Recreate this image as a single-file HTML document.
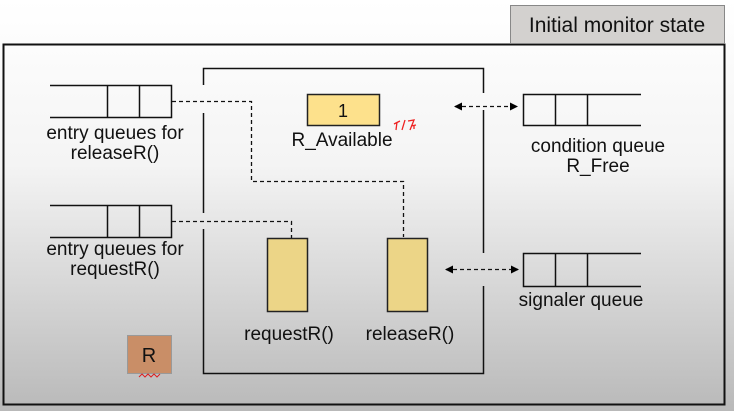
<!DOCTYPE html>
<html><head><meta charset="utf-8"><style>
html,body{margin:0;padding:0;width:734px;height:411px;overflow:hidden;}
svg{display:block;font-family:"Liberation Sans",sans-serif;}
</style></head><body>
<svg width="734" height="411" viewBox="0 0 734 411" xmlns="http://www.w3.org/2000/svg">
<defs>
<linearGradient id="bg" x1="0" y1="0" x2="0" y2="1">
<stop offset="0" stop-color="#ffffff"/><stop offset="0.4" stop-color="#f4f4f4"/><stop offset="1" stop-color="#b9b9b9"/>
</linearGradient>
<marker id="ah" markerWidth="8" markerHeight="8" refX="7" refY="4" orient="auto-start-reverse" markerUnits="userSpaceOnUse">
<path d="M0,0 L8,4 L0,8 z" fill="#000"/></marker>
</defs>
<rect width="734" height="411" fill="url(#bg)"/>
<rect x="3.5" y="44.5" width="721" height="360" fill="none" stroke="#111" stroke-width="2"/>
<rect x="510.5" y="5.5" width="214" height="38" fill="#d3d1cf" stroke="#888"/>
<text x="617" y="32" font-size="21" text-anchor="middle" fill="#111">Initial monitor state</text>

<g stroke="#111" stroke-width="1.5" fill="none">
<path d="M203.5,85 V68.5 H483.5 V93"/>
<path d="M203.5,113 V213"/>
<path d="M203.5,229 V373.5 H483.5 V286"/>
<path d="M483.5,110 V253"/>
<path d="M50,85.5 H171.5 V117.5 H50 M107.5,85.5 V117.5 M139.5,85.5 V117.5"/>
<path d="M50,205.5 H171.5 V237.5 H50 M107.5,205.5 V237.5 M139.5,205.5 V237.5"/>
<path d="M641,94.5 H523.5 V125.5 H641 M555.5,94.5 V125.5 M587.5,94.5 V125.5"/>
<path d="M641,253.5 H523.5 V286.5 H641 M555.5,253.5 V286.5 M587.5,253.5 V286.5"/>
</g>
<g stroke="#111" stroke-width="1.3" fill="none" stroke-dasharray="4,3">
<path d="M172,101.5 H251.5 V181.5 H403.5 V237"/>
<path d="M172,221.5 H291.5 V238"/>
<path d="M455,106.5 H517" marker-start="url(#ah)" marker-end="url(#ah)"/>
<path d="M446,269.5 H518" marker-start="url(#ah)" marker-end="url(#ah)"/>
</g>
<rect x="307.5" y="94.5" width="72" height="31" fill="#fde18c" stroke="#222" stroke-width="1.5"/>
<text x="343" y="117" font-size="18" text-anchor="middle" fill="#111">1</text>
<rect x="267.5" y="238.5" width="40" height="73" fill="#ecd587" stroke="#222" stroke-width="1.5"/>
<rect x="387.5" y="238.5" width="40" height="73" fill="#ecd587" stroke="#222" stroke-width="1.5"/>
<rect x="127.5" y="335.5" width="44" height="38" fill="#c98e67" stroke="#999"/>
<text x="149" y="362" font-size="20" text-anchor="middle" fill="#111">R</text>
<path d="M139,377 l3,-3 l3,3 l3,-3 l3,3 l3,-3 l3,3 l3,-3" stroke="#d22" fill="none" stroke-width="1"/>
<path d="M394,124 l6,-3 M397,122 l-1,8 M405,120 l-3,10 M408,121 l6,-1 l-4,10 M411,126 l5,-1 M414,125 v4" stroke="#e22" fill="none" stroke-width="1.3"/>
<g font-size="19" fill="#111" text-anchor="middle">
<text x="115" y="139">entry queues for</text>
<text x="115" y="159">releaseR()</text>
<text x="115" y="255">entry queues for</text>
<text x="115" y="275">requestR()</text>
<text x="342" y="146">R_Available</text>
<text x="598" y="152">condition queue</text>
<text x="598" y="172">R_Free</text>
<text x="581" y="306">signaler queue</text>
<text x="289" y="340">requestR()</text>
<text x="410" y="340">releaseR()</text>
</g>
</svg>
</body></html>
